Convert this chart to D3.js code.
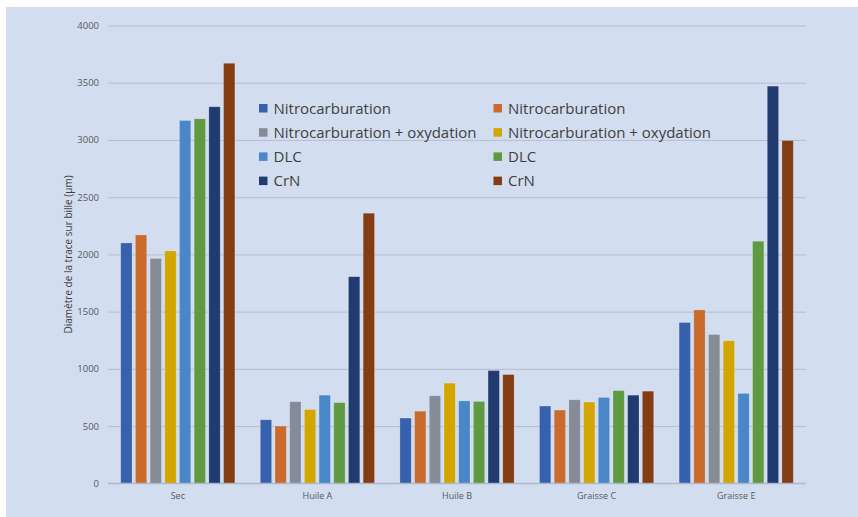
<!DOCTYPE html>
<html>
<head>
<meta charset="utf-8">
<script src="https://cdn.jsdelivr.net/npm/d3@7"></script>
<style>
  html, body { margin: 0; padding: 0; background: #ffffff; }
  svg { display: block; }
</style>
</head>
<body>
<svg id="chart" width="858" height="517"></svg>
<script>
// Test conditions (x axis groups)
const categories = ["Sec", "Huile A", "Huile B", "Graisse C", "Graisse E"];

// Coating series, in legend order (two columns)
const seriesNames = [
  "Nitrocarburation", "Nitrocarburation",
  "Nitrocarburation + oxydation", "Nitrocarburation + oxydation",
  "DLC", "DLC",
  "CrN", "CrN"
];
const seriesColors = [
  "#3661ad", "#c96b2d", "#858c97", "#d3a500",
  "#4a87c9", "#5f9a43", "#1f3b70", "#843d13"
];

// Wear scar diameter (µm), one array per series across the categories
const s1 = [2100, 555, 570, 675, 1405];
const s2 = [2170, 500, 630, 640, 1515];
const s3 = [1965, 713, 765, 730, 1300];
const s4 = [2030, 645, 875, 710, 1245];
const s5 = [3170, 770, 720, 750, 785];
const s6 = [3185, 705, 715, 810, 2115];
const s7 = [3290, 1805, 985, 770, 3470];
const s8 = [3670, 2360, 950, 805, 2995];
const seriesValues = [s1, s2, s3, s4, s5, s6, s7, s8];

const yTicks = [0, 500, 1000, 1500, 2000, 2500, 3000, 3500, 4000];
const yTitle = "Diamètre de la trace sur bille (µm)";

const svg = d3.select("#chart");
const W = 858, H = 517;
const plot = { left: 108, right: 806, top: 25.5, bottom: 483.3 };
const font = "'Open Sans', 'Liberation Sans', sans-serif";

// chart area background
svg.append("rect")
  .attr("x", 6).attr("y", 7)
  .attr("width", W - 6).attr("height", H - 7)
  .attr("fill", "#d2ddf0");

const x0 = d3.scaleBand()
  .domain(categories)
  .range([plot.left, plot.right])
  .paddingInner(0.158)
  .paddingOuter(0.079);

const x1 = d3.scaleBand()
  .domain(d3.range(seriesValues.length))
  .range([0, x0.bandwidth()])
  .paddingInner(0.23)
  .paddingOuter(0.115);

const y = d3.scaleLinear()
  .domain([0, 4000])
  .range([plot.bottom, plot.top]);

// horizontal gridlines
const yAxis = d3.axisLeft(y)
  .tickValues(yTicks)
  .tickSize(-(plot.right - plot.left))
  .tickPadding(9)
  .tickFormat(d3.format("d"));

const gy = svg.append("g")
  .attr("transform", `translate(${plot.left},0)`)
  .call(yAxis);
gy.select(".domain").remove();
gy.selectAll(".tick line")
  .attr("stroke", "#b5bfd0")
  .attr("stroke-width", 1);
gy.selectAll(".tick text")
  .attr("fill", "#595959")
  .style("font-family", font)
  .style("font-size", "9.5px");

// bars
const groups = svg.append("g")
  .selectAll("g")
  .data(categories)
  .join("g")
  .attr("transform", c => `translate(${x0(c)},0)`);

groups.selectAll("rect")
  .data((c, ci) => seriesValues.map((vals, si) => ({ si, v: vals[ci] })))
  .join("rect")
  .attr("x", d => x1(d.si))
  .attr("y", d => y(d.v))
  .attr("width", x1.bandwidth())
  .attr("height", d => y(0) - y(d.v))
  .attr("fill", d => seriesColors[d.si])
  .attr("stroke", "#ffffff")
  .attr("stroke-opacity", 0.25)
  .attr("stroke-width", 0.8);

// baseline
svg.append("line")
  .attr("x1", plot.left).attr("x2", plot.right)
  .attr("y1", y(0)).attr("y2", y(0))
  .attr("stroke", "#aab4c6")
  .attr("stroke-width", 1);

// category labels
const xAxis = d3.axisBottom(x0).tickSize(0).tickPadding(9);
const gx = svg.append("g")
  .attr("transform", `translate(0,${plot.bottom})`)
  .call(xAxis);
gx.select(".domain").remove();
gx.selectAll(".tick text")
  .attr("fill", "#595959")
  .style("font-family", font)
  .style("font-size", "9px");

// y axis title
svg.append("text")
  .attr("transform", `translate(72,${(plot.top + plot.bottom) / 2}) rotate(-90)`)
  .attr("text-anchor", "middle")
  .attr("fill", "#404040")
  .style("font-family", font)
  .style("font-size", "10px")
  .text(yTitle);

// legend, two columns
const legend = svg.append("g");
const colX = [259, 493.5];
const rowY = 108.5, rowStep = 24.2;
seriesNames.forEach((name, i) => {
  const col = i % 2, row = Math.floor(i / 2);
  const gx0 = colX[col], gy0 = rowY + row * rowStep;
  legend.append("rect")
    .attr("x", gx0).attr("y", gy0 - 4.5)
    .attr("width", 8.5).attr("height", 8.5)
    .attr("fill", seriesColors[i]);
  legend.append("text")
    .attr("x", gx0 + 14.5).attr("y", gy0)
    .attr("dy", "0.35em")
    .attr("fill", "#404040")
    .style("font-family", font)
    .style("font-size", "15px")
    .text(name);
});
</script>
</body>
</html>
